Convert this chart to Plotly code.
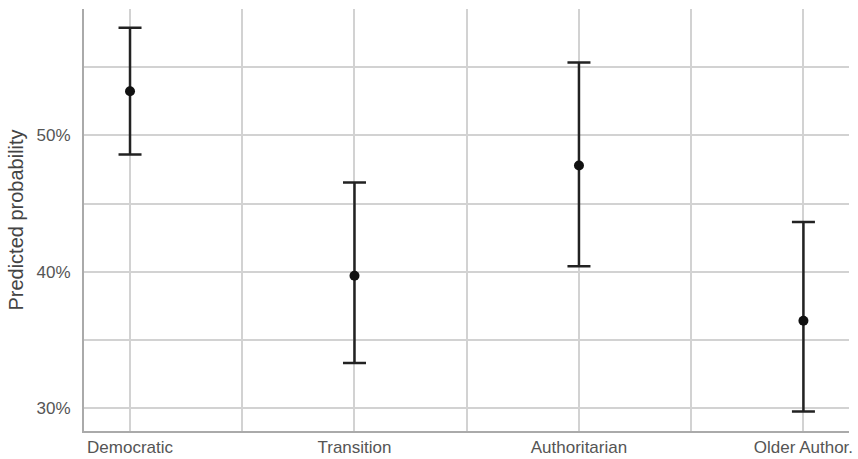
import plotly.graph_objects as go

# Predicted probability (%) by regime type, with 95% interval bounds
categories = ["Democratic", "Transition", "Authoritarian", "Older Author."]
estimate = [53.25, 39.7, 47.8, 36.4]
upper = [57.9, 46.55, 55.35, 43.65]
lower = [48.6, 33.3, 40.4, 29.75]

y_ticks = [30, 35, 40, 45, 50, 55]
y_tick_labels = ["30%", "", "40%", "", "50%", ""]

x_pos = list(range(len(categories)))
err_plus = [u - e for u, e in zip(upper, estimate)]
err_minus = [e - l for e, l in zip(estimate, lower)]

fig = go.Figure(
    go.Scatter(
        x=x_pos,
        y=estimate,
        mode="markers",
        marker=dict(color="#111111", size=10),
        error_y=dict(
            type="data",
            symmetric=False,
            array=err_plus,
            arrayminus=err_minus,
            color="#222222",
            thickness=2.5,
            width=11.5,
        ),
        showlegend=False,
    )
)

# grid lines at every category and half-way between them
x_ticks = [i * 0.5 for i in range(2 * len(categories) - 1)]
x_tick_labels = [categories[int(v)] if v == int(v) else "" for v in x_ticks]

fig.update_layout(
    width=858,
    height=459,
    margin=dict(l=84, r=9, t=9, b=28),
    paper_bgcolor="white",
    plot_bgcolor="white",
    font=dict(family="Arial, Liberation Sans, sans-serif", size=17, color="#555555"),
    xaxis=dict(
        range=[-0.205, 3.203],
        tickvals=x_ticks,
        ticktext=x_tick_labels,
        automargin=False,
        showgrid=True,
        gridcolor="#d2d2d2",
        gridwidth=1.6,
        zeroline=False,
        showline=True,
        linecolor="#aaaaaa",
        linewidth=2,
        ticks="",
        tickfont=dict(size=17, color="#555555"),
    ),
    yaxis=dict(
        range=[28.31, 59.28],
        tickvals=y_ticks,
        ticktext=y_tick_labels,
        automargin=False,
        showgrid=True,
        gridcolor="#d2d2d2",
        gridwidth=1.6,
        zeroline=False,
        showline=True,
        linecolor="#aaaaaa",
        linewidth=2,
        ticks="outside",
        ticklen=8,
        tickcolor="rgba(0,0,0,0)",
        tickfont=dict(size=17, color="#555555"),
        title=dict(
            text="Predicted probability",
            font=dict(size=20, color="#444444"),
            standoff=8,
        ),
    ),
)

fig.write_html("out.html")
